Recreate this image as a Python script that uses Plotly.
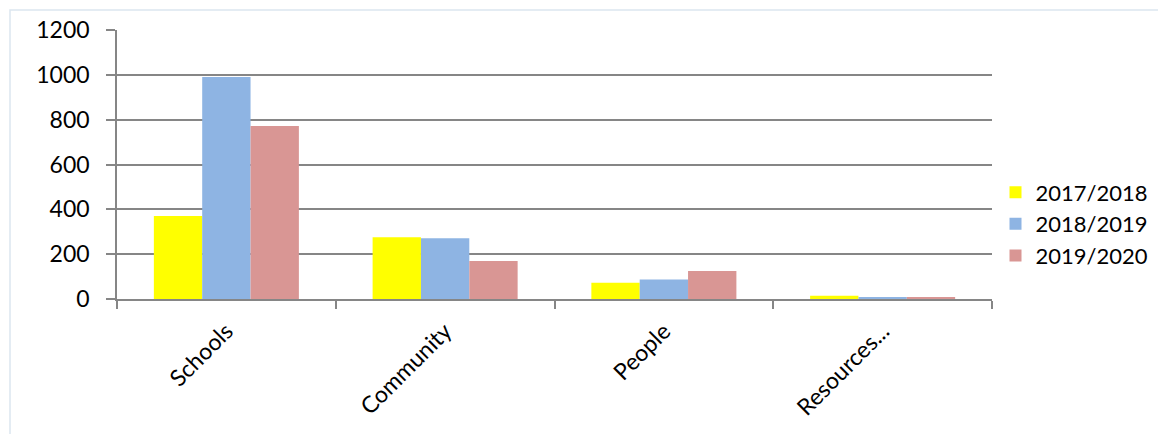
import plotly.graph_objects as go

categories = ["Schools", "Community", "People", "Resources..."]
series_names = ["2017/2018", "2018/2019", "2019/2020"]
values_2017 = [370, 275, 72, 15]
values_2018 = [990, 271, 87, 9]
values_2019 = [772, 170, 125, 6]
colors = ["#FFFF00", "#8EB4E3", "#D99694"]

fig = go.Figure()
for name, vals, col in zip(series_names, [values_2017, values_2018, values_2019], colors):
    fig.add_trace(
        go.Bar(
            x=categories,
            y=vals,
            name=name,
            marker=dict(color=col, line=dict(width=0)),
        )
    )

font = "Lato, 'Open Sans', sans-serif"

fig.update_layout(
    width=1158,
    height=434,
    barmode="group",
    bargap=0.337,
    bargroupgap=0,
    plot_bgcolor="white",
    paper_bgcolor="white",
    margin=dict(l=117, r=166, t=30, b=135, autoexpand=False),
    font=dict(family=font, color="black"),
    showlegend=True,
    legend=dict(
        x=1.004,
        y=0.279,
        xanchor="left",
        yanchor="middle",
        font=dict(size=22, family=font),
        itemwidth=30,
        tracegroupgap=0,
        bgcolor="rgba(0,0,0,0)",
    ),
    xaxis=dict(
        automargin=False,
        tickson="boundaries",
        ticks="outside",
        ticklen=8,
        tickcolor="#868686",
        tickwidth=1.5,
        tickangle=-45,
        tickfont=dict(size=23, family=font),
        ticklabelstandoff=8,
        showline=True,
        linecolor="#868686",
        linewidth=1.5,
        showgrid=False,
    ),
    yaxis=dict(
        automargin=False,
        range=[0, 1200],
        dtick=200,
        ticks="outside",
        ticklen=9,
        tickcolor="#868686",
        tickwidth=1.5,
        tickfont=dict(size=23, family=font),
        ticklabelstandoff=12,
        showgrid=True,
        gridcolor="#868686",
        gridwidth=1.5,
        showline=True,
        linecolor="#868686",
        linewidth=1.5,
        zeroline=False,
    ),
    shapes=[
        dict(
            type="rect",
            xref="paper",
            yref="paper",
            x0=(10 - 117) / 875,
            x1=(1175 - 117) / 875,
            y0=(299 - 450) / 269,
            y1=(299 - 10) / 269,
            line=dict(color="#DCE6F0", width=1.5),
            layer="below",
        )
    ],
)

fig.write_html(
    "out.html",
    config={"displayModeBar": False},
    post_script="document.body.style.margin='0';",
)
